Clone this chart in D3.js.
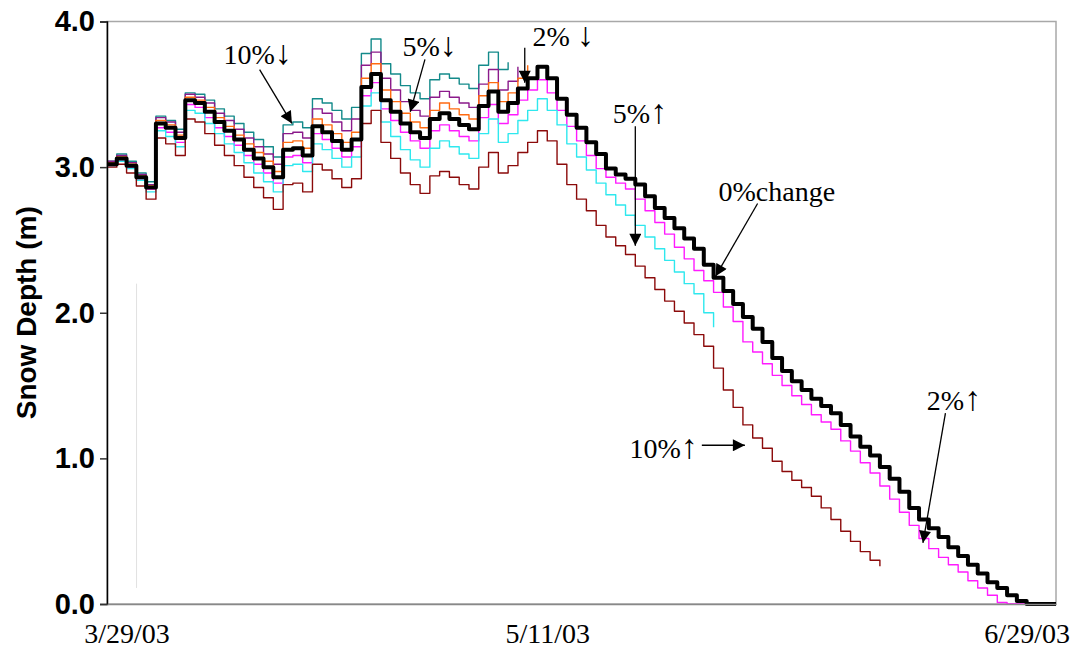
<!DOCTYPE html>
<html>
<head>
<meta charset="utf-8">
<script src="https://cdn.jsdelivr.net/npm/d3@7"></script>
<style>
  body { margin: 0; background: #fff; }
  svg { display: block; }
</style>
</head>
<body>
<svg id="chart" width="1073" height="650"></svg>
<script>
// daily snow depth (m), index 0 = 3/27/03
const startDate = new Date(2003, 2, 27);
const endDate = new Date(2003, 6, 2);

const dec10 = [3.04,3.09,3.04,2.96,2.90,3.35,3.32,3.26,3.51,3.50,3.46,3.40,3.35,3.30,3.24,3.19,3.14,3.07,3.29,3.31,
  3.27,3.47,3.44,3.39,3.33,3.41,3.78,3.88,3.71,3.64,3.56,3.51,3.47,3.60,3.64,3.61,3.57,3.54,3.70,3.79,3.67,3.72];
const dec5 = [3.04,3.08,3.03,2.95,2.88,3.34,3.31,3.24,3.50,3.48,3.44,3.37,3.32,3.26,3.20,3.14,3.09,3.02,3.23,3.24,
  3.20,3.40,3.37,3.31,3.25,3.33,3.70,3.79,3.61,3.53,3.45,3.39,3.35,3.48,3.52,3.48,3.44,3.41,3.57,3.67,3.53,3.59,3.69];
const dec2 = [3.03,3.07,3.02,2.94,2.87,3.32,3.29,3.22,3.48,3.46,3.41,3.34,3.28,3.22,3.16,3.10,3.04,2.97,3.17,3.18,
  3.13,3.33,3.29,3.23,3.17,3.24,3.61,3.71,3.53,3.45,3.37,3.31,3.27,3.39,3.44,3.40,3.36,3.33,3.49,3.58,3.45,3.51,3.61,3.70];
const base0 = [3.02,3.06,3.01,2.93,2.86,3.30,3.27,3.20,3.46,3.44,3.38,3.31,3.25,3.19,3.12,3.06,3.00,2.93,3.12,3.13,
  3.08,3.28,3.24,3.18,3.12,3.19,3.55,3.64,3.46,3.38,3.30,3.24,3.20,3.33,3.37,3.33,3.29,3.26,3.42,3.52,3.38,3.44,3.54,3.61,3.69,
  3.61,3.47,3.36,3.27,3.17,3.09,2.99,2.95,2.92,2.88,2.80,2.72,2.65,2.58,2.51,2.44,2.33,2.24,2.15,2.06,1.97,1.89,1.80,1.69,1.60,
  1.53,1.47,1.41,1.36,1.31,1.23,1.15,1.08,1.02,0.94,0.86,0.77,0.66,0.58,0.52,0.46,0.39,0.33,0.27,0.21,0.15,0.11,0.06,0.02,
  0,0,0,0];
const inc2 = [3.01,3.05,3.00,2.92,2.85,3.27,3.24,3.17,3.43,3.41,3.34,3.27,3.21,3.15,3.08,3.02,2.96,2.89,3.07,3.08,
  3.03,3.23,3.19,3.13,3.07,3.14,3.49,3.58,3.40,3.32,3.24,3.18,3.13,3.25,3.29,3.25,3.21,3.18,3.34,3.43,3.30,3.36,3.46,3.53,3.60,
  3.51,3.39,3.28,3.18,3.08,2.99,2.93,2.89,2.85,2.78,2.70,2.62,2.54,2.45,2.37,2.29,2.22,2.14,2.04,1.94,1.80,1.73,1.65,1.57,1.50,
  1.43,1.37,1.30,1.25,1.20,1.12,1.05,0.97,0.90,0.81,0.72,0.63,0.54,0.45,0.38,0.32,0.27,0.22,0.16,0.11,0.06,0.01,0,0,
  0,0,0,0];
const inc5 = [3.01,3.04,2.99,2.91,2.83,3.25,3.21,3.14,3.39,3.37,3.30,3.23,3.16,3.10,3.03,2.96,2.90,2.83,3.01,3.02,
  2.97,3.16,3.12,3.06,3.00,3.07,3.42,3.51,3.31,3.21,3.12,3.05,3.00,3.13,3.18,3.14,3.09,3.06,3.23,3.33,3.17,3.23,3.32,3.39,3.47,
  3.39,3.29,3.16,3.07,2.98,2.89,2.81,2.74,2.67,2.60,2.52,2.44,2.36,2.28,2.20,2.13,2.00,1.90];
const inc10 = [3.00,3.02,2.96,2.87,2.78,3.20,3.16,3.08,3.33,3.31,3.23,3.15,3.08,3.01,2.93,2.86,2.79,2.71,2.88,2.89,
  2.83,3.02,2.98,2.92,2.86,2.92,3.30,3.39,3.17,3.06,2.96,2.88,2.82,2.94,2.97,2.93,2.88,2.85,3.00,3.10,2.96,3.01,3.10,3.17,3.25,
  3.18,3.02,2.88,2.78,2.70,2.60,2.52,2.46,2.40,2.32,2.24,2.16,2.08,2.01,1.93,1.85,1.77,1.62,1.47,1.35,1.23,1.14,1.07,0.98,0.91,
  0.85,0.80,0.74,0.66,0.58,0.50,0.43,0.36,0.30,0.26];

const seriesNames = ["10%↓", "5%↓", "2%↓", "2%↑", "5%↑", "10%↑", "0%change"];
const seriesValues = [dec10, dec5, dec2, inc2, inc5, inc10, base0];
const seriesColors = ["#138a8a", "#8b1a8b", "#ff6a10", "#ff1aff", "#2ee8ee", "#8b0a0a", "#000000"];
const seriesWidths = [1.4, 1.4, 1.4, 1.4, 1.4, 1.4, 4];

const yTicks = [0, 1, 2, 3, 4];
const xTickDates = [new Date(2003, 2, 29), new Date(2003, 4, 11), new Date(2003, 5, 29)];

// annotation: number part, arrow glyph, text anchor [day, m], arrow start [day, m], arrow tip [day, m]
const notes = [
  ["10%", "↓",     [11.9, 3.71], [15.6, 3.67], [18.9, 3.30]],
  ["5%", "↓",      [30.2, 3.76], [32.5, 3.74], [31.0, 3.38]],
  ["2% ", "↓",     [43.5, 3.83], [42.7, 3.82], [42.7, 3.58]],
  ["5%", "↑",      [51.7, 3.30], [54.0, 3.28], [54.0, 2.46]],
  ["0%change", "", [62.5, 2.77], [66.5, 2.75], [62.2, 2.25]],
  ["2%", "↑",      [83.8, 1.33], [85.7, 1.31], [83.4, 0.42]],
  ["10%", "↑",     [53.4, 1.00], [60.8, 1.09], [65.2, 1.09]]
];

const svg = d3.select("#chart");
const margin = { top: 21.5, right: 17, bottom: 46, left: 107 };
const width = 1073, height = 650;

const x = d3.scaleTime()
  .domain([startDate, endDate])
  .range([margin.left, width - margin.right]);
const y = d3.scaleLinear()
  .domain([0, 4])
  .range([height - margin.bottom, margin.top]);

const dayDate = i => d3.timeDay.offset(startDate, i);
const dayX = dd => x(new Date(startDate.getTime() + dd * 864e5));

// plot frame (grey top/right/bottom)
svg.append("rect")
  .attr("x", x.range()[0]).attr("y", y(4))
  .attr("width", x.range()[1] - x.range()[0])
  .attr("height", y(0) - y(4))
  .attr("fill", "none")
  .attr("stroke", "#a8a8a8")
  .attr("stroke-width", 1.5);

// faint stray line seen in the original
svg.append("line")
  .attr("x1", dayX(3.02)).attr("x2", dayX(3.02))
  .attr("y1", y(2.2)).attr("y2", y(0.11))
  .attr("stroke", "#e2e2e2")
  .attr("stroke-width", 1);

const line = d3.line()
  .x((d, i) => x(dayDate(i)))
  .y(d => y(d))
  .curve(d3.curveStepAfter);

seriesValues.forEach((vals, k) => {
  svg.append("path")
    .datum(vals)
    .attr("fill", "none")
    .attr("stroke", seriesColors[k])
    .attr("stroke-width", seriesWidths[k])
    .attr("stroke-linejoin", "round")
    .attr("d", line);
});

// Y-axis
const yAxis = svg.append("g")
  .attr("transform", `translate(${margin.left},0)`)
  .call(d3.axisLeft(y).tickValues(yTicks).tickFormat(d3.format(".1f")).tickSize(7).tickPadding(5));
yAxis.select(".domain").attr("stroke", "#000").attr("stroke-width", 1.5);
yAxis.selectAll(".tick line").attr("stroke", "#333").attr("stroke-width", 1.5);
yAxis.selectAll("text")
  .style("font-family", "Liberation Sans, Arial, sans-serif")
  .style("font-weight", "bold")
  .style("font-size", "29px")
  .attr("fill", "#000");

// X-axis
const xAxis = svg.append("g")
  .attr("transform", `translate(0,${y(0)})`)
  .call(d3.axisBottom(x).tickValues(xTickDates).tickFormat(d3.timeFormat("%-m/%-d/%y")).tickSize(0).tickPadding(19));
xAxis.select(".domain").attr("stroke", "#888").attr("stroke-width", 1.5);
xAxis.selectAll("text")
  .style("font-family", "Liberation Serif, Times New Roman, serif")
  .style("font-size", "28px")
  .attr("fill", "#000");

svg.append("text")
  .attr("transform", `translate(36,${(y(0) + y(4)) / 2}) rotate(-90)`)
  .attr("text-anchor", "middle")
  .style("font-family", "Liberation Sans, Arial, sans-serif")
  .style("font-weight", "bold")
  .style("font-size", "28px")
  .text("Snow Depth (m)");

// annotations
svg.append("defs").append("marker")
  .attr("id", "head")
  .attr("viewBox", "0 0 10 10")
  .attr("refX", 10).attr("refY", 5)
  .attr("markerWidth", 13).attr("markerHeight", 12)
  .attr("markerUnits", "userSpaceOnUse")
  .attr("orient", "auto")
  .append("path")
  .attr("d", "M0,0L10,5L0,10z")
  .attr("fill", "#000");

const ann = svg.append("g");
notes.forEach(([label, glyph, t, a, b]) => {
  ann.append("line")
    .attr("x1", dayX(a[0])).attr("y1", y(a[1]))
    .attr("x2", dayX(b[0])).attr("y2", y(b[1]))
    .attr("stroke", "#000")
    .attr("stroke-width", 1.3)
    .attr("marker-end", "url(#head)");
  const tx = ann.append("text")
    .attr("x", dayX(t[0])).attr("y", y(t[1]))
    .style("font-family", "Liberation Serif, Times New Roman, serif")
    .style("font-size", "28px");
  tx.append("tspan").text(label);
  if (glyph) tx.append("tspan").style("font-size", "34px").text(glyph);
});
</script>
</body>
</html>
